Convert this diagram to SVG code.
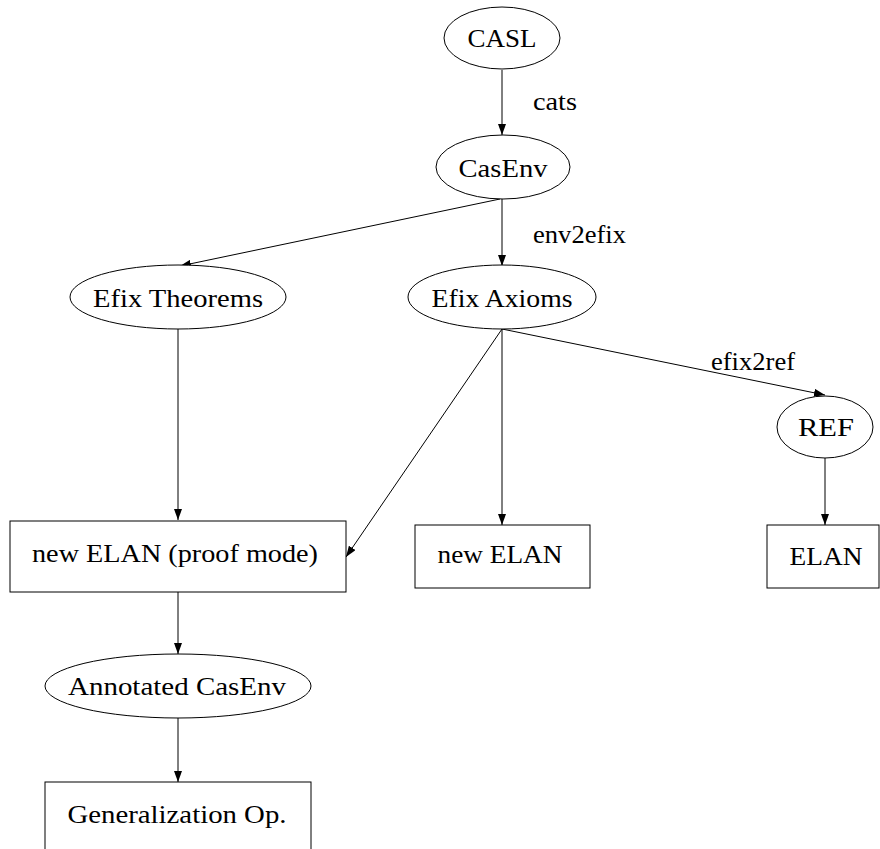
<svg xmlns="http://www.w3.org/2000/svg" width="880" height="849" viewBox="0 0 880 849">
<style>
.n{fill:#fff;stroke:#000;stroke-width:1}
text{font-family:'Liberation Serif','DejaVu Serif',serif;font-size:26px;fill:#000}
.t{text-anchor:middle}
.e{stroke:#000;stroke-width:1;fill:none;marker-end:url(#ah)}
</style>
<defs>
<marker id="ah" markerUnits="userSpaceOnUse" markerWidth="11" markerHeight="8" refX="11" refY="4" orient="auto">
<path d="M0,0 L11,4 L0,8 z" fill="#000"/>
</marker>
</defs>
<rect width="880" height="849" fill="#fff"/>
<g id="connectors">
<line class="e" x1="502" y1="70" x2="502" y2="135"/>
<line class="e" x1="500" y1="199" x2="180" y2="266"/>
<line class="e" x1="502" y1="199" x2="502" y2="266"/>
<line class="e" x1="178" y1="329" x2="178" y2="520"/>
<line class="e" x1="502" y1="329" x2="346" y2="557"/>
<line class="e" x1="502" y1="329" x2="502" y2="525"/>
<line class="e" x1="502" y1="329" x2="825" y2="395"/>
<line class="e" x1="825" y1="458" x2="825" y2="525"/>
<line class="e" x1="178" y1="592" x2="178" y2="654"/>
<line class="e" x1="178" y1="718" x2="178" y2="782"/>
<text x="533" y="110" textLength="44" lengthAdjust="spacingAndGlyphs">cats</text>
<text x="533" y="243" textLength="93" lengthAdjust="spacingAndGlyphs">env2efix</text>
<text x="711" y="370" textLength="84" lengthAdjust="spacingAndGlyphs">efix2ref</text>
</g>
<g id="casl"><ellipse class="n" cx="502" cy="38" rx="58" ry="31"/><text class="t" x="502" y="47" textLength="69" lengthAdjust="spacingAndGlyphs">CASL</text></g>
<g id="casenv"><ellipse class="n" cx="503" cy="167" rx="67" ry="32"/><text class="t" x="503" y="177" textLength="89" lengthAdjust="spacingAndGlyphs">CasEnv</text></g>
<g id="efix-theorems"><ellipse class="n" cx="178" cy="297" rx="108" ry="32"/><text class="t" x="178" y="307" textLength="170" lengthAdjust="spacingAndGlyphs">Efix Theorems</text></g>
<g id="efix-axioms"><ellipse class="n" cx="502" cy="297" rx="94" ry="32"/><text class="t" x="502" y="307" textLength="141" lengthAdjust="spacingAndGlyphs">Efix Axioms</text></g>
<g id="ref"><ellipse class="n" cx="825" cy="427" rx="48" ry="31"/><text class="t" x="826" y="436" textLength="56" lengthAdjust="spacingAndGlyphs">REF</text></g>
<g id="new-elan-proof"><rect class="n" x="10" y="521" width="336" height="71"/><text class="t" x="175" y="562" textLength="286" lengthAdjust="spacingAndGlyphs">new ELAN (proof mode)</text></g>
<g id="new-elan"><rect class="n" x="415" y="525" width="175" height="63"/><text class="t" x="500" y="563" textLength="125" lengthAdjust="spacingAndGlyphs">new ELAN</text></g>
<g id="elan"><rect class="n" x="767" y="525" width="112" height="63"/><text class="t" x="826" y="565" textLength="73" lengthAdjust="spacingAndGlyphs">ELAN</text></g>
<g id="annotated-casenv"><ellipse class="n" cx="178" cy="686" rx="133" ry="32"/><text class="t" x="177" y="695" textLength="218" lengthAdjust="spacingAndGlyphs">Annotated CasEnv</text></g>
<g id="generalization"><rect class="n" x="45" y="782" width="266" height="80"/><text class="t" x="177" y="823" textLength="219" lengthAdjust="spacingAndGlyphs">Generalization Op.</text></g>
</svg>
